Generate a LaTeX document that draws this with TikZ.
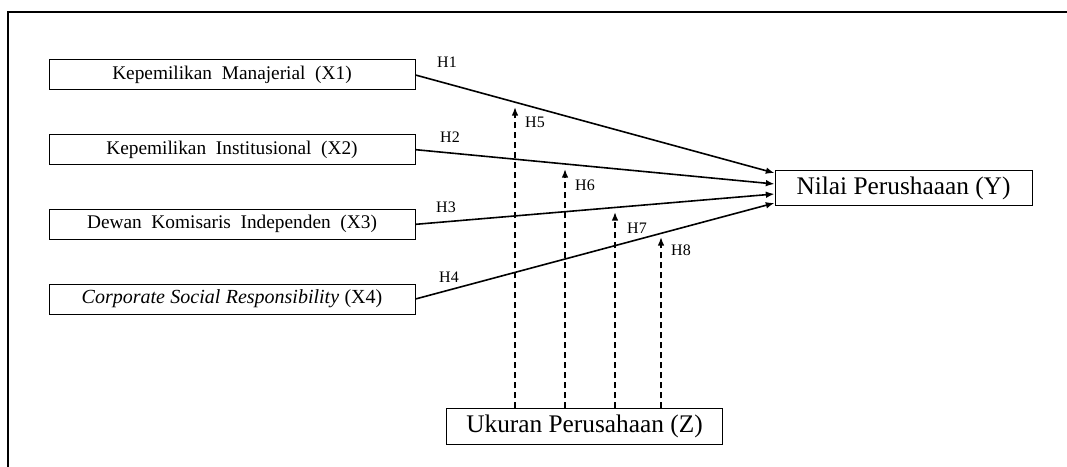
\documentclass[tikz,border=0pt]{standalone}
\usepackage{fontspec}
\setmainfont{Liberation Serif}
\usetikzlibrary{shapes,arrows,arrows.meta}
\usetikzlibrary{positioning}
\tikzstyle{line} = [draw, line width=1.2pt, -{Latex[length=6.5pt,width=5pt]}]
\tikzstyle{mod} = [draw, line width=1.2pt, dash pattern=on 4.5pt off 3pt, -{Latex[length=6.5pt,width=5pt]}]
\tikzstyle{frame} = [draw, line width=1.5pt]
\tikzstyle{var} = [rectangle, minimum width=274.5pt, minimum height=22.5pt, inner sep=0pt, text centered, draw=black,
     line width=0.75pt, font=\fontsize{14.5}{16}\selectfont, execute at begin node={\spaceskip=0.5em\relax}]
\tikzstyle{csr} = [var, font=\fontsize{15}{17}\selectfont, execute at begin node={\spaceskip=0.27em\relax}]
\tikzstyle{dep} = [rectangle, minimum height=26.5pt, inner sep=0pt, text centered, draw=black,
     line width=0.75pt, font=\fontsize{19}{21}\selectfont]
\tikzstyle{hyp} = [inner sep=0pt, font=\fontsize{12}{14}\selectfont]

\begin{document}
\begin{tikzpicture}[x=0.75pt,y=-0.75pt,node distance=56pt]
\useasboundingbox (0,0) rectangle (1067,467);
\draw[frame] (8,467) -- (8,12) -- (1067,12);

% independent variables
\node (X1) [var] at (232,75) {Kepemilikan Manajerial (X1)};
\node (X2) [var, below of=X1] {Kepemilikan Institusional (X2)};
\node (X3) [var, below of=X2] {Dewan Komisaris Independen (X3)};
\node (X4) [csr, below of=X3] {\textit{Corporate Social Responsibility} (X4)};

% dependent and moderating variable
\node (Y) [dep, minimum width=192.75pt] at (903.5,188) {Nilai Perushaaan (Y)};
\node (Z) [dep, minimum width=207pt] at (584.5,426.5) {Ukuran Perusahaan (Z)};

% direct effects
\draw[line] (X1.east) -- ([yshift=11.25pt]Y.west);
\draw[line] (X2.east) -- ([yshift=3pt]Y.west);
\draw[line] (X3.east) -- ([yshift=-4.5pt]Y.west);
\draw[line] (X4.east) -- ([yshift=-11.25pt]Y.west);
\node (h1) [hyp] at (447,62) {H1};
\node (h2) [hyp] at (450,137) {H2};
\node (h3) [hyp] at (446,207) {H3};
\node (h4) [hyp] at (449,277) {H4};

% moderation
\coordinate (m5) at (515,107);
\coordinate (m6) at (565,169);
\coordinate (m7) at (615,212);
\coordinate (m8) at (661,237);
\draw[mod] (Z.north -| m5) -- (m5);
\draw[mod] (Z.north -| m6) -- (m6);
\draw[mod] (Z.north -| m7) -- (m7);
\draw[mod] (Z.north -| m8) -- (m8);
\node (h5) [hyp] at (535,122) {H5};
\node (h6) [hyp] at (585,185) {H6};
\node (h7) [hyp] at (637,228) {H7};
\node (h8) [hyp] at (681,250) {H8};

\end{tikzpicture}
\end{document}
